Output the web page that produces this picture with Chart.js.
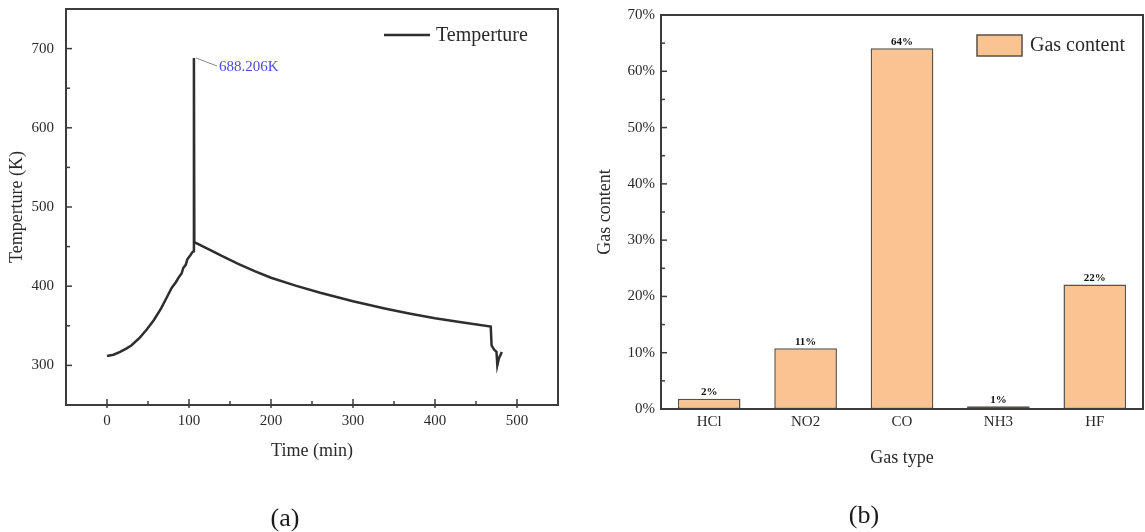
<!DOCTYPE html>
<html>
<head>
<meta charset="utf-8">
<script src="https://cdn.jsdelivr.net/npm/chart.js@4.4.1/dist/chart.umd.min.js"></script>
<style>
  html, body { margin: 0; padding: 0; background: #fff; }
  #wrap { position: relative; width: 1145px; height: 532px; overflow: hidden; }
  .pane { position: absolute; top: 0; }
  #chartA { left: 0; }
  #chartB { left: 572px; }
  .cap { position: absolute; font: 26px "Liberation Serif", serif; color: #1a1a1a; transform: translate(-50%, -50%); }
</style>
</head>
<body>
<div id="wrap">
  <canvas id="chartA" class="pane" width="572" height="532"></canvas>
  <canvas id="chartB" class="pane" width="573" height="532"></canvas>
  <div class="cap" style="left:285px; top:518px;">(a)</div>
  <div class="cap" style="left:864px; top:515px;">(b)</div>
</div>
<script>
// (a) temperature log
const timeMin = [0, 8, 16, 24, 30, 40, 48, 57, 66, 73, 79, 84, 88, 91, 93, 96, 98, 101, 104, 105.5,
  106, 106.5, 120, 140, 160, 180, 200, 230, 260, 300, 340, 370, 400, 430, 468,
  469, 472, 475, 476, 478, 481.5];
const tempK = [311.8, 313.5, 317, 321.5, 325.4, 335, 344.6, 357, 372, 386, 398, 405, 412, 416, 423, 427, 434, 438, 442.8, 444,
  688.206, 455.5, 448.7, 438.2, 428.3, 419.1, 410.7, 400.7, 391.7, 380.9, 371.6, 365.3, 359.6, 354.7, 349,
  325.4, 320, 317, 300, 309, 317];
const timeTicks = [0, 100, 200, 300, 400, 500];
const tempTicks = [300, 400, 500, 600, 700];

// (b) gas share
const gasTypes = ['HCl', 'NO2', 'CO', 'NH3', 'HF'];
const gasShare = [1.8, 10.8, 64.1, 0.5, 22.1];
const shareTicks = [0, 10, 20, 30, 40, 50, 60, 70];

const SERIF = '"Liberation Serif", "Times New Roman", serif';
const INK = '#2a2a2a';

// box around the plot plus inward major/minor ticks
const frameTicks = {
  id: 'frameTicks',
  afterDatasetsDraw(chart, args, opts) {
    const { ctx, chartArea: a, scales } = chart;
    ctx.save();
    ctx.strokeStyle = '#3c3c3c';
    ctx.lineWidth = 2;
    ctx.strokeRect(a.left, a.top, a.right - a.left, a.bottom - a.top);
    ctx.lineWidth = 1.5;
    const seg = (x1, y1, x2, y2) => { ctx.beginPath(); ctx.moveTo(x1, y1); ctx.lineTo(x2, y2); ctx.stroke(); };
    const minors = s => {
      const v = s.ticks.map(t => t.value), out = [];
      for (let i = 0; i < v.length - 1; i++) out.push((v[i] + v[i + 1]) / 2);
      return out;
    };
    if (opts.xTicks) {
      const sx = scales.x;
      sx.ticks.forEach(t => { const p = sx.getPixelForValue(t.value); seg(p, a.bottom + 3, p, a.bottom - 6); });
      minors(sx).forEach(v => { const p = sx.getPixelForValue(v); seg(p, a.bottom, p, a.bottom - 4); });
    }
    const sy = scales.y;
    sy.ticks.forEach(t => { const p = sy.getPixelForValue(t.value); seg(a.left, p, a.left + 6, p); });
    minors(sy).forEach(v => { const p = sy.getPixelForValue(v); seg(a.left, p, a.left + 4, p); });
    ctx.restore();
  }
};

// legend line and the peak callout
const tempNotes = {
  id: 'tempNotes',
  afterDatasetsDraw(chart) {
    const { ctx, chartArea: a, scales: { x, y } } = chart;
    ctx.save();
    const i = tempK.indexOf(Math.max(...tempK));
    const px = x.getPixelForValue(timeMin[i]), py = y.getPixelForValue(tempK[i]);
    ctx.strokeStyle = '#888';
    ctx.lineWidth = 1;
    ctx.beginPath(); ctx.moveTo(px + 2, py); ctx.lineTo(px + 23, py + 8); ctx.stroke();
    ctx.fillStyle = '#4b4bdc';
    ctx.font = '15px ' + SERIF;
    ctx.textBaseline = 'middle';
    ctx.fillText(tempK[i].toFixed(3) + 'K', px + 25, py + 9);

    const ly = a.top + 26;
    ctx.strokeStyle = '#2e2e2e';
    ctx.lineWidth = 2.5;
    ctx.beginPath(); ctx.moveTo(a.right - 174, ly); ctx.lineTo(a.right - 128, ly); ctx.stroke();
    ctx.fillStyle = INK;
    ctx.font = '20px ' + SERIF;
    ctx.fillText(chart.data.datasets[0].label, a.right - 122, ly + 1);
    ctx.restore();
  }
};

// value labels over bars and the legend swatch
const gasNotes = {
  id: 'gasNotes',
  afterDatasetsDraw(chart) {
    const { ctx, chartArea: a } = chart;
    ctx.save();
    ctx.fillStyle = '#111';
    ctx.font = 'bold 11px ' + SERIF;
    ctx.textAlign = 'center';
    ctx.textBaseline = 'bottom';
    chart.getDatasetMeta(0).data.forEach((bar, i) => {
      ctx.fillText(Math.round(gasShare[i]) + '%', bar.x, bar.y - 1);
    });
    const ds = chart.data.datasets[0];
    ctx.fillStyle = ds.backgroundColor;
    ctx.strokeStyle = ds.borderColor;
    ctx.lineWidth = 1.5;
    ctx.fillRect(a.right - 166, a.top + 20, 45, 21);
    ctx.strokeRect(a.right - 166, a.top + 20, 45, 21);
    ctx.fillStyle = INK;
    ctx.font = '20px ' + SERIF;
    ctx.textAlign = 'left';
    ctx.textBaseline = 'middle';
    ctx.fillText(ds.label, a.right - 113, a.top + 31);
    ctx.restore();
  }
};

const tickFont = { family: SERIF, size: 15 };
const titleFont = { family: SERIF, size: 18 };

// fixed axis sizes; drop the extra edge padding Chart.js reserves for labels
const fixWidth = w => s => { s.width = w; s.paddingTop = 0; s.paddingBottom = 0; };
const fixHeight = h => s => { s.height = h; s.paddingLeft = 0; s.paddingRight = 0; };

new Chart(document.getElementById('chartA'), {
  type: 'line',
  data: {
    datasets: [{
      label: 'Temperture',
      data: timeMin.map((t, i) => ({ x: t, y: tempK[i] })),
      borderColor: '#2e2e2e',
      borderWidth: 2.5,
      pointRadius: 0,
      tension: 0,
      fill: false
    }]
  },
  options: {
    responsive: false,
    animation: false,
    devicePixelRatio: 1,
    layout: { padding: { left: 0, top: 9, right: 14, bottom: 70 } },
    plugins: { legend: { display: false }, tooltip: { enabled: false }, frameTicks: { xTicks: true } },
    scales: {
      x: {
        type: 'linear', min: -50, max: 550,
        grid: { display: false, drawTicks: false }, border: { display: false },
        afterBuildTicks: s => { s.ticks = timeTicks.map(v => ({ value: v })); },
        afterFit: fixHeight(57),
        ticks: { padding: 7, color: INK, font: tickFont, maxRotation: 0 },
        title: { display: true, text: 'Time (min)', color: INK, font: titleFont, padding: { top: 0, bottom: 0 } }
      },
      y: {
        min: 250, max: 750,
        grid: { display: false, drawTicks: false }, border: { display: false },
        afterBuildTicks: s => { s.ticks = tempTicks.map(v => ({ value: v })); },
        afterFit: fixWidth(66),
        ticks: { padding: 12, color: INK, font: tickFont },
        title: { display: true, text: 'Temperture (K)', color: INK, font: titleFont, padding: { top: 6, bottom: 0 } }
      }
    }
  },
  plugins: [frameTicks, tempNotes]
});

new Chart(document.getElementById('chartB'), {
  type: 'bar',
  data: {
    labels: gasTypes,
    datasets: [{
      label: 'Gas content',
      data: gasShare,
      backgroundColor: '#F9C491',
      borderColor: '#5b5046',
      borderWidth: 1.5,
      borderSkipped: false,
      barPercentage: 0.65,
      categoryPercentage: 1
    }]
  },
  options: {
    responsive: false,
    animation: false,
    devicePixelRatio: 1,
    layout: { padding: { left: 0, top: 15, right: 2, bottom: 63 } },
    plugins: { legend: { display: false }, tooltip: { enabled: false }, frameTicks: { xTicks: false } },
    scales: {
      x: {
        grid: { display: false, drawTicks: false }, border: { display: false },
        afterFit: fixHeight(60),
        ticks: { padding: 4, color: INK, font: tickFont, maxRotation: 0 },
        title: { display: true, text: 'Gas type', color: INK, font: titleFont, padding: { top: 0, bottom: 0 } }
      },
      y: {
        min: 0, max: 70,
        grid: { display: false, drawTicks: false }, border: { display: false },
        afterBuildTicks: s => { s.ticks = shareTicks.map(v => ({ value: v })); },
        afterFit: fixWidth(89),
        ticks: { padding: 6, color: INK, font: tickFont, callback: v => v + '%' },
        title: { display: true, text: 'Gas content', color: INK, font: titleFont, padding: { top: 22, bottom: 0 } }
      }
    }
  },
  plugins: [frameTicks, gasNotes]
});
</script>
</body>
</html>
